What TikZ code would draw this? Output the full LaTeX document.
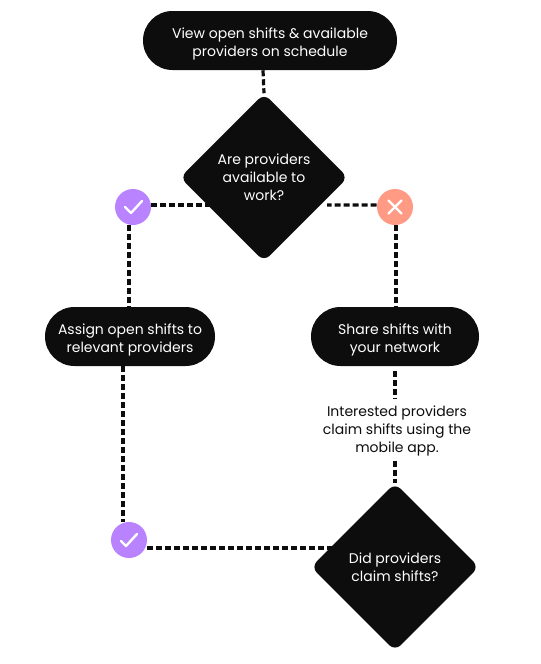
\documentclass[tikz,border=0pt]{standalone}
\usepackage{fontspec}
\setmainfont{Poppins}
\usetikzlibrary{shapes.geometric,backgrounds}
\definecolor{ink}{HTML}{0D0D0D}
\definecolor{grape}{HTML}{B983FF}
\definecolor{salmon}{HTML}{FF9B85}
\newcommand\dropa{\rule{0pt}{13.5pt}}
\newcommand\dropb{\rule{0pt}{12.5pt}}
\tikzset{
  x=0.75pt,y=-0.75pt,
  lbl/.style={font=\fontsize{10.5pt}{13.5pt}\selectfont,align=center,text=white},
  pill/.style={lbl,fill=ink,rounded corners=22.1pt,inner sep=0pt,minimum height=44.25pt},
  choice/.style={lbl,fill=ink,diamond,aspect=1,inner sep=0pt,minimum width=126pt,minimum height=126pt,rounded corners=6pt},
  badge/.style={circle,inner sep=0pt,minimum size=27pt},
  plain/.style={lbl,text=ink,inner sep=0pt},
  link/.style={draw=ink,line width=2.4pt,dash pattern=on 4.5pt off 2.25pt},
  glyph/.style={draw=white,line width=1.8pt,line cap=round,line join=round}
}
\begin{document}
\begin{tikzpicture}
\useasboundingbox (0,0) rectangle (540,664);
\node[pill,minimum width=190.5pt] (top) at (270,40.5) {\dropa View open shifts \& available\\providers on schedule};
\node[choice] (d1) at (264,177.5) {Are providers\\available to\\work?};
\node[badge,fill=grape] (c1) at (133,207) {};
\node[badge,fill=salmon] (x1) at (395,207) {};
\node[pill,minimum width=127.5pt] (left) at (130,336.5) {\dropb Assign open shifts to\\relevant providers};
\node[pill,minimum width=126pt] (right) at (395,336.5) {\dropb Share shifts with\\your network};
\node[plain] (note) at (397,430.5) {Interested providers\\claim shifts using the\\mobile app.};
\node[choice] (d2) at (395,567) {Did providers\\claim shifts?};
\node[badge,fill=grape] (c2) at (129,540) {};
\begin{scope}[on background layer]
  \draw[link] ([xshift=-5.25pt]top.south) -- (d1.north);
  \draw[link] ([yshift=1.5pt]c1.east) -- ([yshift=1.5pt]c1.east -| d1.center);
  \draw[link] ([yshift=1.5pt]x1.west) -- ([xshift=47.25pt,yshift=-20.6pt]d1.center);
  \draw[link] ([xshift=-3pt]c1.south) -- ([xshift=-3pt]c1.south |- left.north);
  \draw[link] ([xshift=.75pt]x1.south) -- ([xshift=.75pt]x1.south |- right.north);
  \draw[link] ([xshift=-5.25pt]left.south) -- ([xshift=-5.25pt]left.south |- c2.north);
  \draw[link] ([yshift=-3.75pt]right.south) -- ([yshift=5pt]right.south |- note.north);
  \draw[link] ([xshift=-1.5pt,yshift=-3.5pt]note.south) -- (d2.north);
  \draw[link] ([yshift=-6pt]c2.east) -- ([yshift=-6pt]c2.east -| d2.center);
\end{scope}
\draw[glyph] ([shift={(-8,0)}]c1.center) -- ([shift={(-2,6)}]c1.center) -- ([shift={(9,-6)}]c1.center);
\draw[glyph] ([shift={(-6.5,-6.5)}]x1.center) -- ([shift={(6.5,6.5)}]x1.center);
\draw[glyph] ([shift={(-6.5,6.5)}]x1.center) -- ([shift={(6.5,-6.5)}]x1.center);
\draw[glyph] ([shift={(-8,1)}]c2.center) -- ([shift={(-3,6)}]c2.center) -- ([shift={(8,-6)}]c2.center);
\end{tikzpicture}
\end{document}
